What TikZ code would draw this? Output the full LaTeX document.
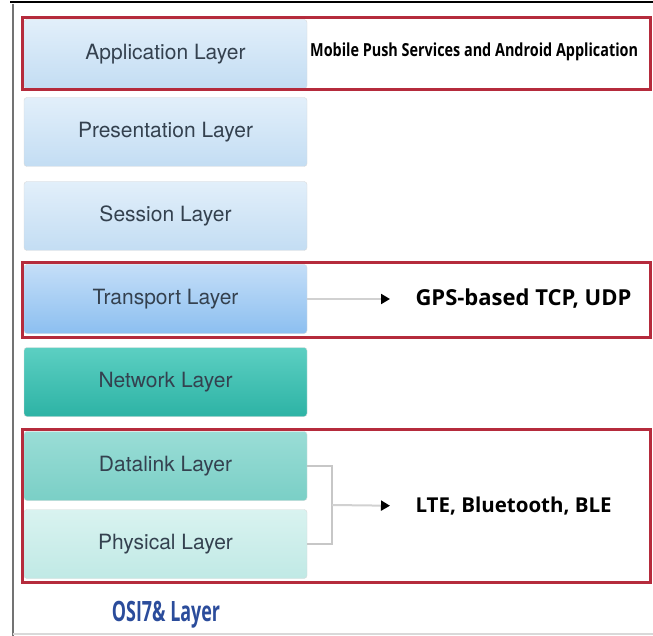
\documentclass[tikz,border=0pt]{standalone}
\usepackage{fontspec}
\setmainfont{TeX Gyre Heros}
\newfontfamily\infofont{Open Sans}
\newfontfamily\narrowfont[FakeStretch=0.8]{Open Sans}
\newfontfamily\osifont[FakeStretch=0.64]{Open Sans}
\usetikzlibrary{arrows.meta}
\definecolor{boxred}{HTML}{B52B3C}
\definecolor{layertext}{HTML}{34414F}
\definecolor{osiblue}{HTML}{2B4C9B}
\definecolor{uppertop}{HTML}{E2EFFA}
\definecolor{upperbot}{HTML}{C3DDF3}
\definecolor{transptop}{HTML}{C4DEF8}
\definecolor{transpbot}{HTML}{8CBFF0}
\definecolor{netwtop}{HTML}{5CCFC2}
\definecolor{netwbot}{HTML}{2DB3A5}
\definecolor{dataltop}{HTML}{9ADDD6}
\definecolor{datalbot}{HTML}{7ACFC6}
\definecolor{physbot}{HTML}{C0E9E5}
\definecolor{phystop}{HTML}{D9F3F0}
\begin{document}
\begin{tikzpicture}[x=1pt,y=-1pt,
layer/.style = {rounded corners=3pt, draw=black!15, minimum width=283pt, minimum height=69pt,
                text=layertext, font=\fontsize{21}{23}\selectfont},
upper/.style = {top color=uppertop, bottom color=upperbot},
transp/.style = {top color=transptop, bottom color=transpbot},
netw/.style = {top color=netwtop, bottom color=netwbot},
datal/.style = {top color=dataltop, bottom color=datalbot},
phys/.style = {top color=phystop, bottom color=physbot},
redbox/.style = {draw=boxred, line width=3pt},
info/.style = {font=\infofont\bfseries\fontsize{21}{23}\selectfont, anchor=west},
infoarrow/.style = {draw=black!18, line width=2pt, -{Triangle[color=black, length=9pt, width=10pt]}},
bracket/.style = {draw=black!22, line width=1.5pt}
                        ]
\useasboundingbox (0,0) rectangle (653,636);
% page frame
\draw[line width=2.5pt] (10,2) -- (653,2);
\draw[black!55, line width=2pt] (13,4) -- (13,636);
\draw[black!15, line width=1.5pt] (13,634) -- (653,634);
%
    \foreach \nm/\txt/\yy/\sty in {application/Application Layer/54/upper,
        presentation/Presentation Layer/132/upper, session/Session Layer/216/upper,
        transport/Transport Layer/299/transp, network/Network Layer/382/netw,
        datalink/Datalink Layer/466/datal, physical/Physical Layer/544/phys}
{
    \node[layer,\sty] (\nm) at (165.5,\yy) {\txt};
}
%
\node[anchor=west, inner sep=0pt, font=\narrowfont\bfseries\fontsize{18}{20}\selectfont] (appinfo) at (310,52)
    {Mobile Push Services and Android Application};
\node[info, font=\infofont\bfseries\fontsize{22}{24}\selectfont] (tcpinfo) at (412,299) {GPS-based TCP, UDP};
\node[info, font=\infofont\bfseries\fontsize{20.5}{22}\selectfont] (lteinfo) at (412,506) {LTE, Bluetooth, BLE};
\node[font=\osifont\bfseries\fontsize{28}{30}\selectfont, text=osiblue] (osi) at (166,615) {OSI7\& Layer};
%
\coordinate (fork) at (332,505);
\draw[infoarrow, shorten >=22pt] (transport.east) -- (tcpinfo.west);
\draw[bracket] (datalink.east) -| (fork) |- (physical.east);
\draw[infoarrow, shorten >=22pt] (fork) -- (lteinfo.west);
%
\draw[redbox] (22,18) rectangle (650,90);
\draw[redbox] (22,263) rectangle (650,337);
\draw[redbox] (22,429) rectangle (650,582);
\end{tikzpicture}
\end{document}
